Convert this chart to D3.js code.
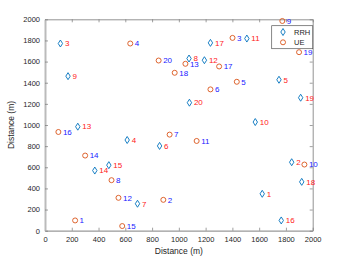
<!DOCTYPE html>
<html>
<head>
<meta charset="utf-8">
<script src="https://cdn.jsdelivr.net/npm/d3@7"></script>
<style>
  body { margin: 0; background: #fff; }
  text { font-family: "Liberation Sans", Arial, sans-serif; }
</style>
</head>
<body>
<div id="target"></div>
<script>
// ids 1..20 for both sets
let ids = d3.range(1, 21)
let rrhX = [1623, 1843, 115, 614, 1748, 856, 691, 1076, 172, 1571, 1508, 1191, 245, 372, 477, 1765, 1236, 1918, 1910, 1079]
let rrhY = [349, 648, 1771, 858, 1428, 802, 255, 1629, 1462, 1028, 1818, 1613, 984, 569, 620, 97, 1777, 462, 1258, 1211]
let ueX = [225, 884, 1401, 637, 1433, 1236, 931, 497, 1773, 1938, 1133, 549, 1049, 300, 577, 100, 1301, 969, 1898, 849]
let ueY = [97, 292, 1824, 1771, 1409, 1337, 909, 478, 1984, 626, 849, 311, 1579, 711, 44, 934, 1554, 1494, 1689, 1610]
let ticks = [0, 200, 400, 600, 800, 1000, 1200, 1400, 1600, 1800, 2000]

let W = 346, H = 260
let mLeft = 45, mRight = 312.7, mTop = 19.3, mBottom = 230.7
let blue = "#0072BD", orange = "#D95319"

let svg = d3.select("#target").append("svg").attr("width", W).attr("height", H)

let x = d3.scaleLinear().domain([0, 2000]).range([mLeft, mRight])
let y = d3.scaleLinear().domain([0, 2000]).range([mBottom, mTop])

// axes (MATLAB style, ticks inward, box on)
let fmt = d3.format("d")
let gx = svg.append("g").attr("transform", `translate(0,${mBottom})`)
    .call(d3.axisBottom(x).tickValues(ticks).tickFormat(fmt).tickSizeInner(-3).tickSizeOuter(0).tickPadding(6))
let gxt = svg.append("g").attr("transform", `translate(0,${mTop})`)
    .call(d3.axisTop(x).tickValues(ticks).tickFormat("").tickSizeInner(-3).tickSizeOuter(0))
let gy = svg.append("g").attr("transform", `translate(${mLeft},0)`)
    .call(d3.axisLeft(y).tickValues(ticks).tickFormat(fmt).tickSizeInner(-3).tickSizeOuter(0).tickPadding(5))
let gyr = svg.append("g").attr("transform", `translate(${mRight},0)`)
    .call(d3.axisRight(y).tickValues(ticks).tickFormat("").tickSizeInner(-3).tickSizeOuter(0))

for (let g of [gx, gxt, gy, gyr]) {
    g.selectAll(".domain").attr("stroke", "#777").attr("stroke-width", 0.8)
    g.selectAll(".tick line").attr("stroke", "#777").attr("stroke-width", 0.7)
    g.selectAll("text").attr("fill", "#262626").style("font-size", "7.5px")
}
gy.select(".domain").attr("stroke", "#bbb").attr("stroke-width", 2)
gx.select(".domain").attr("stroke", "#999").attr("stroke-width", 1.2)

svg.append("text").attr("x", (mLeft + mRight) / 2).attr("y", 254)
    .attr("text-anchor", "middle").attr("fill", "#262626").style("font-size", "8.5px")
    .text("Distance (m)")
svg.append("text").attr("transform", `translate(14,${(mTop + mBottom) / 2}) rotate(-90)`)
    .attr("text-anchor", "middle").attr("fill", "#262626").style("font-size", "8.5px")
    .text("Distance (m)")

let diamond = (cx, cy) => `M${cx},${cy - 3.5}L${cx + 2.2},${cy}L${cx},${cy + 3.5}L${cx - 2.2},${cy}Z`

let rrh = ids.map((id, i) => ({ id: id, x: rrhX[i], y: rrhY[i] }))
let ue = ids.map((id, i) => ({ id: id, x: ueX[i], y: ueY[i] }))

let pts = svg.append("g")
pts.selectAll("path.rrh").data(rrh).enter().append("path")
    .attr("d", d => diamond(x(d.x), y(d.y)))
    .attr("fill", "none").attr("stroke", blue).attr("stroke-width", 0.9)
pts.selectAll("circle.ue").data(ue).enter().append("circle")
    .attr("cx", d => x(d.x)).attr("cy", d => y(d.y)).attr("r", 2.5)
    .attr("fill", "none").attr("stroke", orange).attr("stroke-width", 0.9)

pts.selectAll("text.rrh").data(rrh).enter().append("text")
    .attr("x", d => x(d.x) + 4.5).attr("y", d => y(d.y) + 2.8)
    .attr("fill", "#ff2020").style("font-size", "8px")
    .text(d => d.id)
pts.selectAll("text.ue").data(ue).enter().append("text")
    .attr("x", d => x(d.x) + 4.5).attr("y", d => y(d.y) + 2.8)
    .attr("fill", "#2020ff").style("font-size", "8px")
    .text(d => d.id)

// legend
let lg = svg.append("g")
lg.append("rect").attr("x", 271.7).attr("y", 25.7).attr("width", 41).attr("height", 23)
    .attr("fill", "#fff").attr("stroke", "#555").attr("stroke-width", 0.7)
lg.append("path").attr("d", diamond(283, 32)).attr("fill", "none").attr("stroke", blue).attr("stroke-width", 0.9)
lg.append("circle").attr("cx", 283).attr("cy", 42.3).attr("r", 2.5).attr("fill", "none").attr("stroke", orange).attr("stroke-width", 0.9)
lg.append("text").attr("x", 294).attr("y", 34.8).attr("fill", "#262626").style("font-size", "7.5px").text("RRH")
lg.append("text").attr("x", 294).attr("y", 45).attr("fill", "#262626").style("font-size", "7.5px").text("UE")
</script>
</body>
</html>
